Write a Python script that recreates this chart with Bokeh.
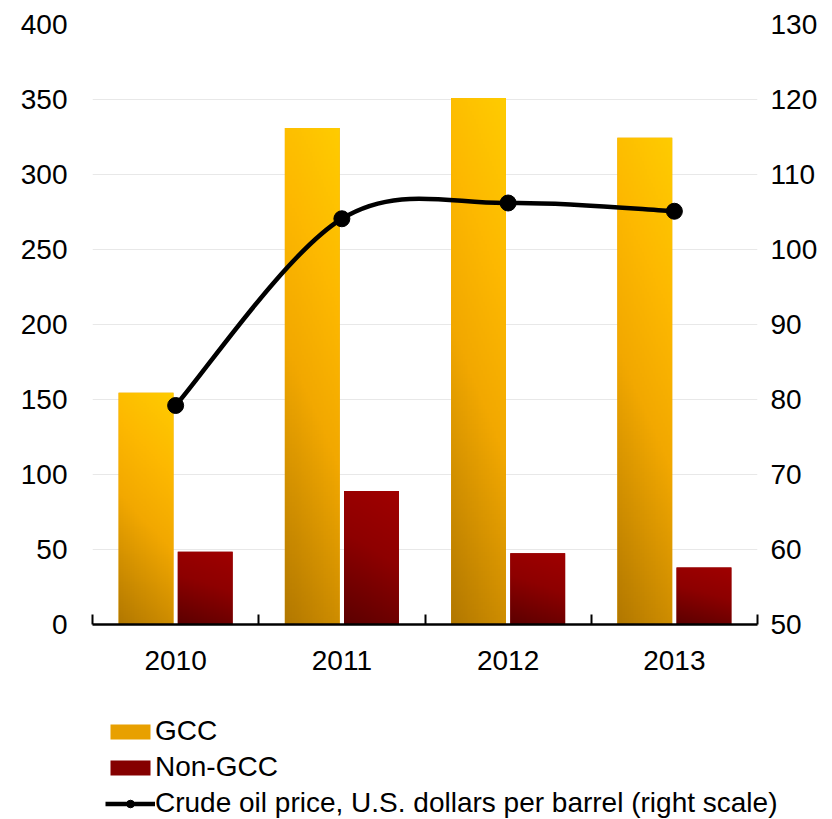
import numpy as np
from bokeh.plotting import figure
from bokeh.models import Range1d, LinearAxis, FixedTicker, Legend, LegendItem
from bokeh.embed import file_html
from bokeh.resources import INLINE

# ---------------- data ----------------
years = ["2010", "2011", "2012", "2013"]
gcc = [154.5, 331.0, 351.0, 324.5]
non_gcc = [48.5, 89.0, 47.5, 38.0]
oil_price = [79.2, 104.1, 106.2, 105.1]
left_ticks = [0, 50, 100, 150, 200, 250, 300, 350, 400]
right_ticks = [50, 60, 70, 80, 90, 100, 110, 120, 130]
labels = ["GCC", "Non-GCC", "Crude oil price, U.S. dollars per barrel (right scale)"]

FONT = "Liberation Sans"
FS = "28px"
GCC_COLOR = "#E8A000"
NON_COLOR = "#850000"

n = len(years)
centers = [i + 0.5 for i in range(n)]
bar_w = 0.33
off = 0.178

p = figure(width=832, height=688,
           x_range=Range1d(0, n), y_range=Range1d(0, 400),
           output_backend="svg", toolbar_location=None,
           min_border_left=92, min_border_right=75, min_border_top=24, min_border_bottom=64)
p.outline_line_color = None
p.background_fill_color = "white"
p.border_fill_color = "white"

p.extra_y_ranges = {"oil": Range1d(50, 130)}

# grid
p.xgrid.visible = False
p.ygrid.ticker = FixedTicker(ticks=left_ticks)
p.ygrid.grid_line_color = "#E8E8E8"
p.ygrid.grid_line_width = 1

# left axis
ya = p.yaxis[0]
ya.ticker = FixedTicker(ticks=left_ticks)
ya.axis_line_color = None
ya.major_tick_line_color = None
ya.major_tick_out = 0
ya.minor_tick_line_color = None
ya.major_label_text_font = FONT
ya.major_label_text_font_size = FS
ya.major_label_text_color = "black"
ya.major_label_standoff = 25

# right axis
ra = LinearAxis(y_range_name="oil", ticker=FixedTicker(ticks=right_ticks))
ra.axis_line_color = None
ra.major_tick_line_color = None
ra.major_tick_out = 0
ra.minor_tick_line_color = None
ra.major_label_text_font = FONT
ra.major_label_text_font_size = FS
ra.major_label_text_color = "black"
ra.major_label_standoff = 13
p.add_layout(ra, "right")

# x axis
xa = p.xaxis[0]
xa.ticker = FixedTicker(ticks=centers, minor_ticks=list(range(n + 1)))
xa.major_label_overrides = {c: y for c, y in zip(centers, years)}
xa.major_tick_line_color = None
xa.major_tick_out = 0
xa.minor_tick_in = 10
xa.minor_tick_out = 0
xa.minor_tick_line_color = "black"
xa.minor_tick_line_width = 2
xa.axis_line_color = "black"
xa.axis_line_width = 2.5
xa.major_label_text_font = FONT
xa.major_label_text_font_size = FS
xa.major_label_text_color = "black"
xa.major_label_standoff = 26


def hex2rgb(h):
    h = h.lstrip("#")
    return np.array([int(h[i:i + 2], 16) for i in (0, 2, 4)], dtype=float)


def gradient(stops, rows=240, cols=30):
    yy, xx = np.mgrid[0:rows, 0:cols]
    t = (yy / (rows - 1)) * 0.8 + (xx / (cols - 1)) * 0.2
    pos = np.array([s[0] for s in stops])
    cols_rgb = np.array([hex2rgb(s[1]) for s in stops])
    r = np.interp(t, pos, cols_rgb[:, 0])
    g = np.interp(t, pos, cols_rgb[:, 1])
    b = np.interp(t, pos, cols_rgb[:, 2])
    img = np.empty((rows, cols), dtype=np.uint32)
    view = img.view(dtype=np.uint8).reshape((rows, cols, 4))
    view[:, :, 0] = r.astype(np.uint8)
    view[:, :, 1] = g.astype(np.uint8)
    view[:, :, 2] = b.astype(np.uint8)
    view[:, :, 3] = 255
    return img


gcc_stops = [(0.0, "#B27800"), (0.45, "#F2A800"), (0.7, "#FDB800"), (1.0, "#FFCC00")]
non_stops = [(0.0, "#5C0000"), (0.55, "#8E0000"), (1.0, "#A00000")]

gx = [c - off for c in centers]
nx = [c + off for c in centers]

p.vbar(x=gx, top=gcc, width=bar_w, bottom=0, fill_color=GCC_COLOR, line_color=None)
p.vbar(x=nx, top=non_gcc, width=bar_w, bottom=0, fill_color=NON_COLOR, line_color=None)

for xs, vals, stops in ((gx, gcc, gcc_stops), (nx, non_gcc, non_stops)):
    for xc, v in zip(xs, vals):
        p.image_rgba(image=[gradient(stops)], x=xc - bar_w / 2, y=0, dw=bar_w, dh=v)

# smooth oil-price curve (Catmull-Rom as cubic Bezier through the data points)
P = list(zip(centers, oil_price))
x0, y0, x1, y1, cx0, cy0, cx1, cy1 = ([] for _ in range(8))
for i in range(n - 1):
    pm = P[i - 1] if i > 0 else P[i]
    pa = P[i]
    pb = P[i + 1]
    pp = P[i + 2] if i + 2 < n else P[i + 1]
    x0.append(pa[0]); y0.append(pa[1])
    x1.append(pb[0]); y1.append(pb[1])
    cx0.append(pa[0] + (pb[0] - pm[0]) / 6); cy0.append(pa[1] + (pb[1] - pm[1]) / 6)
    cx1.append(pb[0] - (pp[0] - pa[0]) / 6); cy1.append(pb[1] - (pp[1] - pa[1]) / 6)

p.bezier(x0=x0, y0=y0, x1=x1, y1=y1, cx0=cx0, cy0=cy0, cx1=cx1, cy1=cy1,
         y_range_name="oil", line_color="black", line_width=4.5)
p.scatter(x=centers, y=oil_price, size=16, color="black", y_range_name="oil")

# ---------------- legend strip (separate root figure) ----------------
q = figure(width=832, height=131, x_range=Range1d(0, 1), y_range=Range1d(0, 1),
           output_backend="svg", toolbar_location=None,
           min_border_left=105, min_border_right=0, min_border_top=27, min_border_bottom=0,
           x_axis_type=None, y_axis_type=None)
q.outline_line_color = None
q.xgrid.visible = False
q.ygrid.visible = False
q.border_fill_color = "white"
q.background_fill_color = "white"

# legend proxies, kept completely outside the visible ranges
lg_gcc = q.vbar(x=[5], top=[6], bottom=[5], width=0.1, fill_color=GCC_COLOR, line_color=None)
lg_non = q.vbar(x=[5], top=[6], bottom=[5], width=0.1, fill_color=NON_COLOR, line_color=None)
lg_line = q.line(x=[5, 6], y=[5, 5], line_color="black", line_width=4.5)
lg_pts = q.scatter(x=[5], y=[5], size=16, color="black")

legend = Legend(items=[LegendItem(label=labels[0], renderers=[lg_gcc]),
                       LegendItem(label=labels[1], renderers=[lg_non]),
                       LegendItem(label=labels[2], renderers=[lg_line, lg_pts])],
                location="top_left", orientation="vertical")
legend.label_text_font = FONT
legend.label_text_font_size = FS
legend.label_text_color = "black"
legend.glyph_width = 50
legend.glyph_height = 19
legend.label_standoff = 0
legend.label_height = 30
legend.spacing = 4
legend.padding = 0
legend.margin = 0
legend.border_line_color = None
legend.background_fill_alpha = 0
q.add_layout(legend)

open("out.html", "w").write(file_html([p, q], INLINE))
